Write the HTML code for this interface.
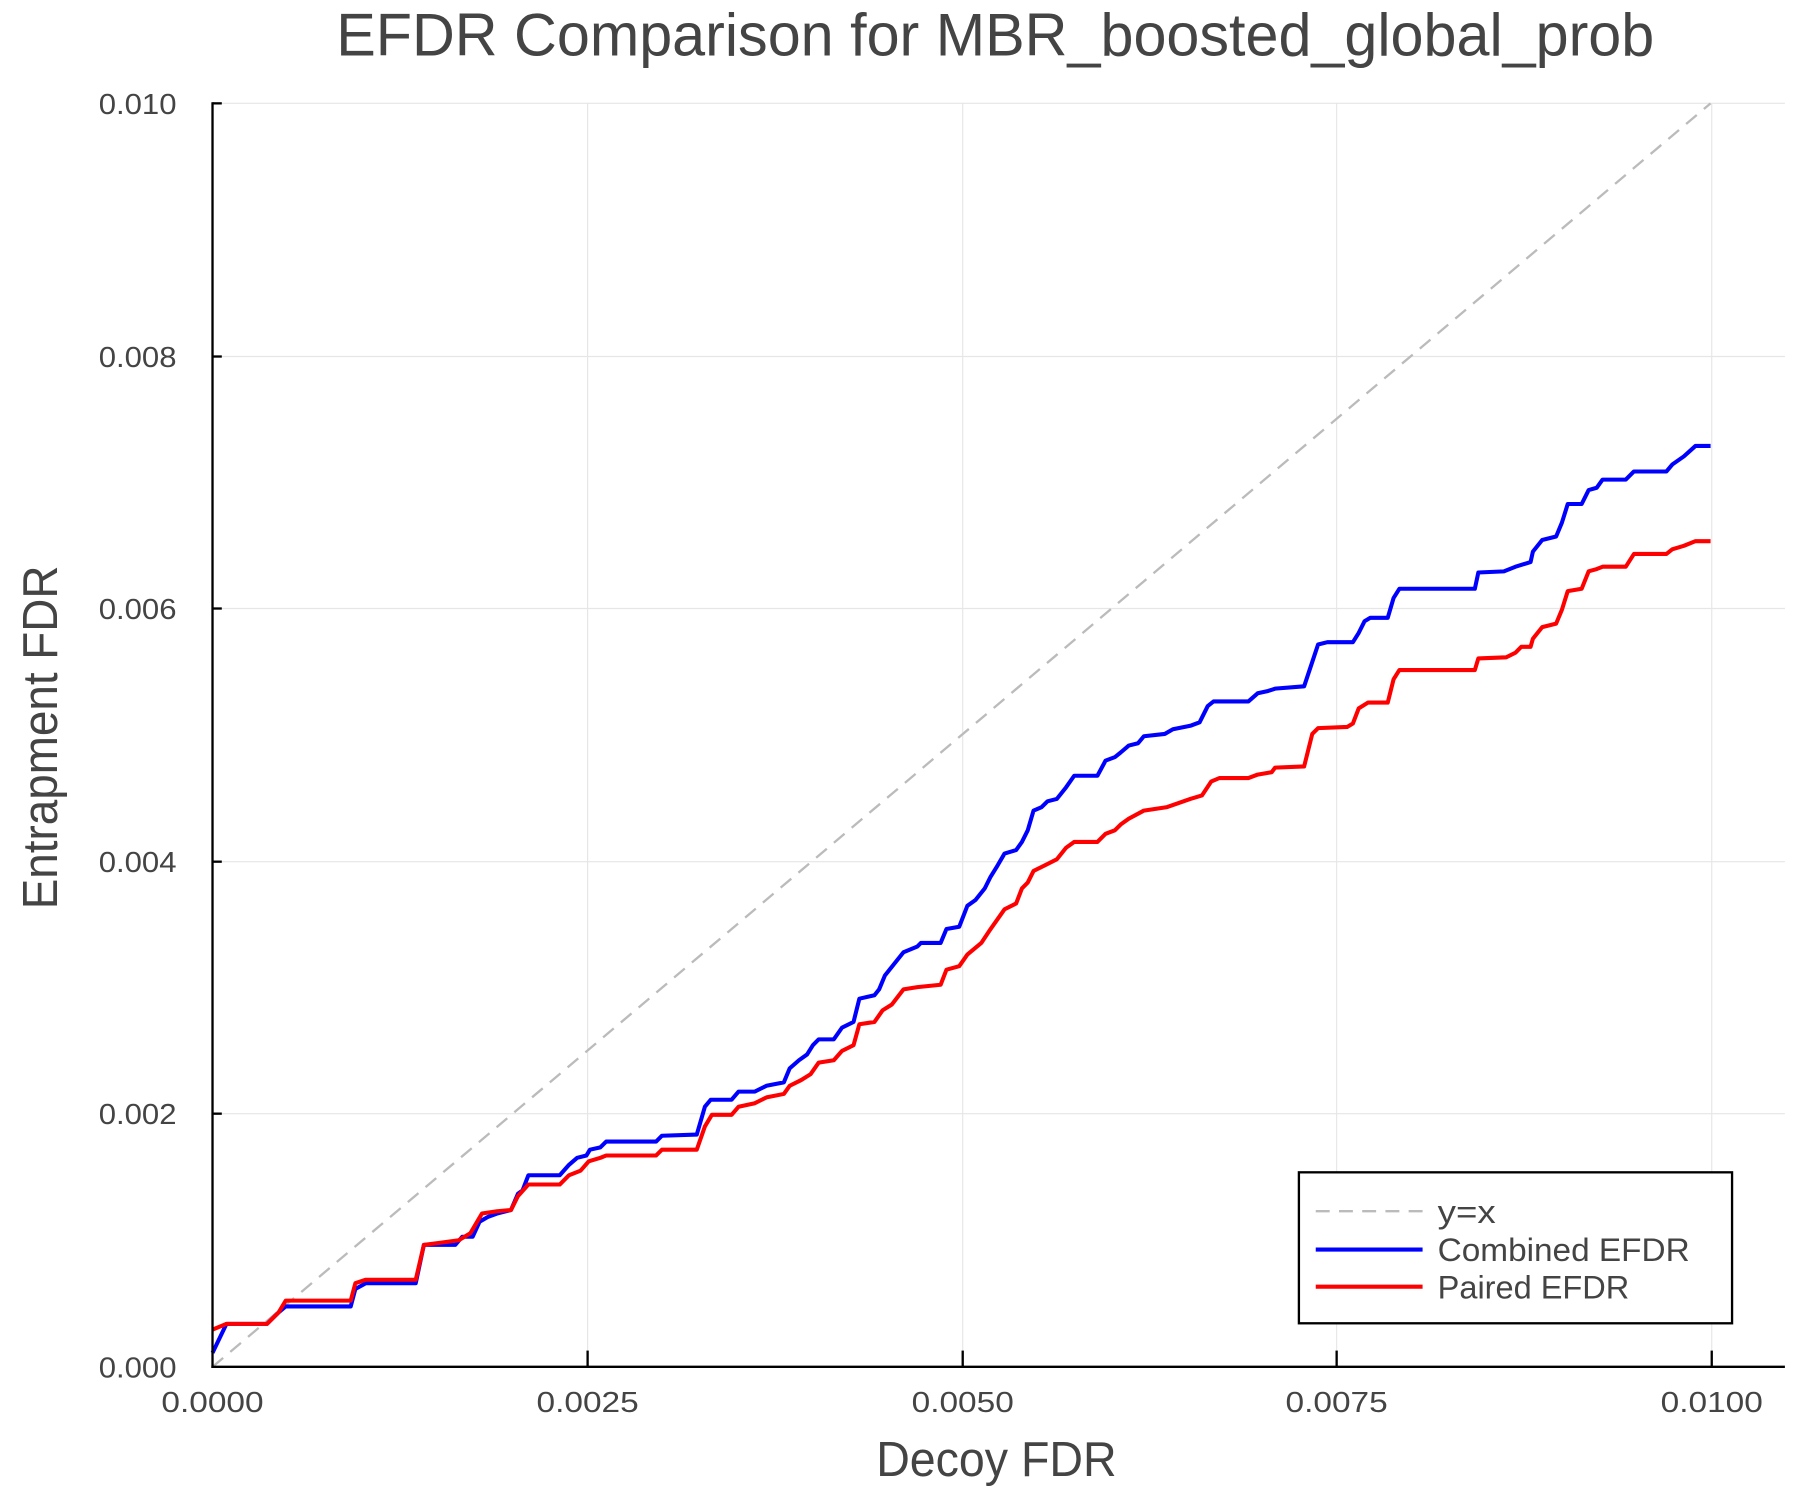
<!DOCTYPE html>
<html><head><meta charset="utf-8"><style>html,body{margin:0;padding:0;background:#fff}svg{display:block}</style></head>
<body>
<svg width="1800" height="1500" viewBox="0 0 1550 1291.67" preserveAspectRatio="none" xmlns="http://www.w3.org/2000/svg" font-family="'Liberation Sans Narrow','Liberation Sans',sans-serif" fill="#444">
<rect width="1550" height="1292" fill="#fff"/>
<g stroke="#e6e6e6" stroke-width="1">
<line x1="506" y1="89" x2="506" y2="1177"/><line x1="829" y1="89" x2="829" y2="1177"/><line x1="1151" y1="89" x2="1151" y2="1177"/><line x1="1474" y1="89" x2="1474" y2="1177"/>
<line x1="183" y1="89" x2="1537" y2="89"/><line x1="183" y1="307" x2="1537" y2="307"/><line x1="183" y1="524" x2="1537" y2="524"/><line x1="183" y1="742" x2="1537" y2="742"/><line x1="183" y1="959" x2="1537" y2="959"/>
</g>
<line x1="183" y1="1177" x2="1473" y2="89" stroke="#bbb" stroke-width="2" stroke-dasharray="12,8"/>
<polyline fill="none" stroke="#0000ff" stroke-width="3.5" stroke-linejoin="round" points="183,1165 195,1140 230,1140 240,1130 246,1125 302,1125 306,1110 315,1105 358,1105 365,1072 392,1072 398,1065 407,1065 413,1052 420,1048 428,1045 440,1042 446,1028 450,1025 455,1012 482,1012 490,1003 497,997 505,995 508,990 517,988 522,983 565,983 570,978 600,977 607,953 612,947 630,947 636,940 650,940 660,935 675,932 680,920 688,913 695,908 700,900 705,895 718,895 725,885 735,880 740,860 753,857 757,852 762,840 770,830 778,820 790,815 793,812 810,812 815,800 826,798 833,780 840,775 848,765 853,755 858,747 865,735 875,732 880,725 885,715 890,698 897,695 902,690 910,688 918,678 925,668 945,668 952,655 960,652 965,648 972,642 980,640 985,634 1003,632 1010,628 1025,625 1033,622 1040,608 1045,604 1075,604 1083,597 1092,595 1098,593 1123,591 1130,570 1135,555 1143,553 1165,553 1170,545 1175,535 1180,532 1195,532 1200,515 1205,507 1270,507 1273,493 1295,492 1305,488 1318,484 1320,475 1328,465 1340,462 1345,450 1350,434 1362,434 1368,422 1375,420 1380,413 1400,413 1407,406 1435,406 1440,400 1450,393 1460,384 1473,384"/>
<polyline fill="none" stroke="#ff0000" stroke-width="3.5" stroke-linejoin="round" points="183,1145 195,1140 230,1140 240,1130 246,1120 302,1120 306,1105 315,1102 358,1102 365,1072 380,1070 395,1068 405,1062 415,1045 428,1043 440,1042 446,1030 455,1020 482,1020 490,1012 500,1008 507,1000 517,997 522,995 565,995 570,990 600,990 607,970 613,960 630,960 636,953 650,950 660,945 675,942 680,935 690,930 698,925 705,915 718,913 725,905 735,900 740,882 753,880 760,870 768,865 778,852 790,850 810,848 815,835 826,832 833,822 845,812 853,800 865,783 875,778 880,765 885,760 890,750 900,745 910,740 918,730 925,725 945,725 952,718 960,715 965,710 972,705 985,698 1005,695 1025,688 1035,685 1043,673 1050,670 1075,670 1083,667 1095,665 1098,661 1123,660 1130,632 1135,627 1160,626 1165,623 1170,610 1178,605 1195,605 1200,585 1205,577 1270,577 1273,567 1297,566 1305,562 1310,557 1318,557 1320,550 1328,540 1340,537 1345,525 1350,509 1362,507 1368,492 1375,490 1380,488 1400,488 1407,477 1435,477 1440,473 1450,470 1460,466 1473,466"/>
<g stroke="#000" stroke-width="2">
<line x1="183" y1="88" x2="183" y2="1178"/><line x1="182" y1="1177" x2="1537" y2="1177"/>
<line x1="183" y1="89" x2="191" y2="89"/><line x1="183" y1="307" x2="191" y2="307"/><line x1="183" y1="524" x2="191" y2="524"/><line x1="183" y1="742" x2="191" y2="742"/><line x1="183" y1="959" x2="191" y2="959"/>
<line x1="506" y1="1177" x2="506" y2="1163"/><line x1="829" y1="1177" x2="829" y2="1163"/><line x1="1151" y1="1177" x2="1151" y2="1163"/><line x1="1474" y1="1177" x2="1474" y2="1163"/>
</g>
<g font-size="25" text-anchor="end">
<text x="152" y="98" textLength="67" lengthAdjust="spacingAndGlyphs">0.010</text><text x="152" y="316" textLength="67" lengthAdjust="spacingAndGlyphs">0.008</text><text x="152" y="533" textLength="67" lengthAdjust="spacingAndGlyphs">0.006</text><text x="152" y="751" textLength="67" lengthAdjust="spacingAndGlyphs">0.004</text><text x="152" y="968" textLength="67" lengthAdjust="spacingAndGlyphs">0.002</text><text x="152" y="1186" textLength="67" lengthAdjust="spacingAndGlyphs">0.000</text>
</g>
<g font-size="25" text-anchor="middle">
<text x="183" y="1216" textLength="88" lengthAdjust="spacingAndGlyphs">0.0000</text><text x="506" y="1216" textLength="88" lengthAdjust="spacingAndGlyphs">0.0025</text><text x="829" y="1216" textLength="88" lengthAdjust="spacingAndGlyphs">0.0050</text><text x="1151" y="1216" textLength="88" lengthAdjust="spacingAndGlyphs">0.0075</text><text x="1474" y="1216" textLength="88" lengthAdjust="spacingAndGlyphs">0.0100</text>
</g>
<text x="858" y="1271" font-size="42" text-anchor="middle" textLength="207" lengthAdjust="spacingAndGlyphs">Decoy FDR</text>
<text transform="translate(49,635) rotate(-90)" font-size="42" text-anchor="middle" textLength="296" lengthAdjust="spacingAndGlyphs">Entrapment FDR</text>
<text x="857" y="48" font-size="52" text-anchor="middle" textLength="1135" lengthAdjust="spacingAndGlyphs">EFDR Comparison for MBR_boosted_global_prob</text>
<rect x="1118.5" y="1009.5" width="373" height="130" fill="#fff" stroke="#000" stroke-width="2"/>
<line x1="1133" y1="1043" x2="1225" y2="1043" stroke="#bbb" stroke-width="2" stroke-dasharray="12,8"/>
<line x1="1133" y1="1076" x2="1225" y2="1076" stroke="#0000ff" stroke-width="3.5"/>
<line x1="1133" y1="1108" x2="1225" y2="1108" stroke="#ff0000" stroke-width="3.5"/>
<g font-size="28"><text x="1238" y="1053" textLength="50" lengthAdjust="spacingAndGlyphs">y=x</text><text x="1238" y="1086" textLength="217" lengthAdjust="spacingAndGlyphs">Combined EFDR</text><text x="1238" y="1118" textLength="165" lengthAdjust="spacingAndGlyphs">Paired EFDR</text></g>
</svg>
</body></html>
